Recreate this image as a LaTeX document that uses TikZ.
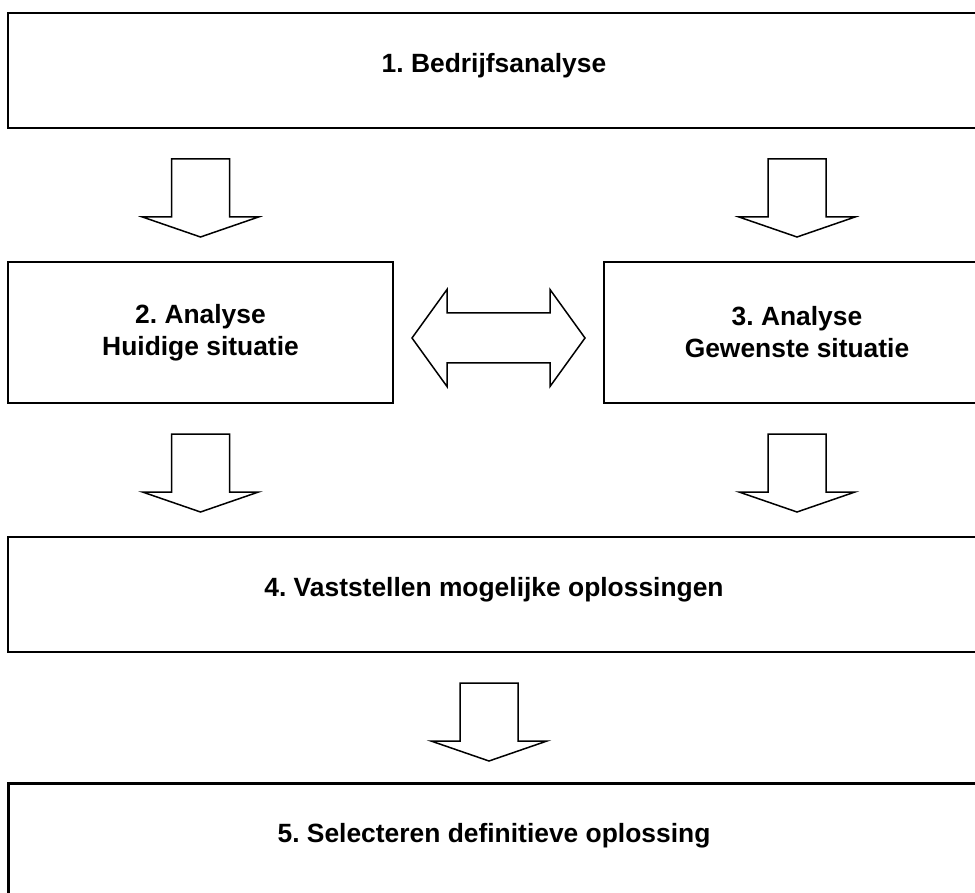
\documentclass[tikz,border=0pt]{standalone}
\usepackage{fontspec}
\setmainfont{Liberation Sans}
\usepackage{tikz}
\usetikzlibrary{positioning,calc}
\frenchspacing
\tikzset{box/.style={rectangle,draw=black,line width=1pt,inner sep=0pt,
  align=center,font=\bfseries\fontsize{13.2}{16}\selectfont},
  wide/.style={box,minimum width=486pt,minimum height=57.5pt,text depth=8pt},
  half/.style={box,minimum width=192.5pt,minimum height=70.5pt},
  blockarrow/.style={draw=black,line width=0.75pt,fill=white,line join=miter},
  downarr/.pic={\draw[blockarrow] (-29,0)--(29,0)--(29,58)--(58,58)--(0,78)
    --(-58,58)--(-29,58)--cycle;},
  bothwaysarr/.pic={\draw[blockarrow] (-86.5,0)--(-51.5,-48.5)--(-51.5,-25)
    --(51.5,-25)--(51.5,-48.5)--(86.5,0)--(51.5,48.5)--(51.5,25)--(-51.5,25)
    --(-51.5,48.5)--cycle;}}

\begin{document}
\begin{tikzpicture}[x=0.5pt,y=-0.5pt]
 \useasboundingbox (0,0) rectangle (975,893);
 \clip (0,0) rectangle (975,893);
 \node[wide] (b1) at (494,70.5) {1. Bedrijfsanalyse};
 \node[half] (b2) at (200.5,332.5) {2. Analyse\\Huidige situatie};
 \node[half,minimum width=193pt] (b3) at (797,332.5) {3. Analyse\\Gewenste situatie};
 \node[wide] (b4) at (494,594.5) {4. Vaststellen mogelijke oplossingen};
 \node[wide,line width=1.5pt] (b5) at (494,840.5) {5. Selecteren definitieve oplossing};
 % arrows between the boxes
 \pic at ($(b1.south -| b2)+(0,30)$) {downarr};
 \pic at ($(b1.south -| b3)+(0,30)$) {downarr};
 \pic at ($(b2.south)+(0,30)$) {downarr};
 \pic at ($(b3.south)+(0,30)$) {downarr};
 \pic at ($(b4.south)+(-5,30)$) {downarr};
 \pic at ($(b2.east)!0.5!(b3.west)+(0,5.5)$) {bothwaysarr};
\end{tikzpicture}
\end{document}
